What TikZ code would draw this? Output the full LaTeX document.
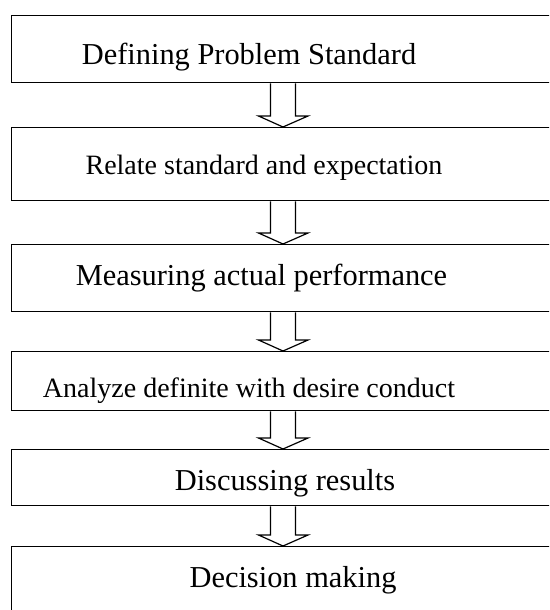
\documentclass[tikz,border=0pt]{standalone}
\usepackage{fontspec}
\setmainfont{Liberation Serif}
\usetikzlibrary{calc}
\tikzset{
  box/.style={draw=black, line width=1.3pt, rectangle, inner sep=0pt, anchor=north west, minimum width=549pt},
  bigtxt/.style={anchor=base, inner sep=0pt, font=\fontsize{30.4}{34}\selectfont},
  smalltxt/.style={anchor=base, inner sep=0pt, font=\fontsize{28}{32}\selectfont},
  hollow/.style={draw=black, line width=1.2pt, line join=miter}
}
\newcommand\hollowarrow[2]{%
  \draw[hollow] ($(#1.south -| ax)+(-12.5,0)$) -- ($(#2.north -| ax)+(-12.5,-11)$)
    -- ++(-12,0) -- (#2.north -| ax) -- ++(25,-11) -- ++(-12.5,0)
    -- ($(#1.south -| ax)+(12.5,0)$);}
\begin{document}
\begin{tikzpicture}[x=1pt,y=-1pt]
\useasboundingbox (0,0) rectangle (549,610);
\clip (0,0) rectangle (549,610);
\fill[white] (0,0) rectangle (549,610);
\coordinate (ax) at (283,0);
\node[box, minimum height=67pt] (b1) at (11,15) {};
\node[box, minimum height=73pt] (b2) at (11,127) {};
\node[box, minimum height=67pt] (b3) at (11,244) {};
\node[box, minimum height=59pt] (b4) at (11,351) {};
\node[box, minimum height=56pt] (b5) at (11,449) {};
\node[box, minimum height=90pt] (b6) at (11,546) {};
\node[bigtxt] (t1) at (249,64) {Defining Problem Standard};
\node[smalltxt] (t2) at (264,174) {Relate standard and expectation};
\node[bigtxt] (t3) at (261.5,285) {Measuring actual performance};
\node[smalltxt] (t4) at (249,397) {Analyze definite with desire conduct};
\node[bigtxt] (t5) at (285,490) {Discussing results};
\node[bigtxt] (t6) at (293,587) {Decision making};
\hollowarrow{b1}{b2}
\hollowarrow{b2}{b3}
\hollowarrow{b3}{b4}
\hollowarrow{b4}{b5}
\hollowarrow{b5}{b6}
\end{tikzpicture}
\end{document}
